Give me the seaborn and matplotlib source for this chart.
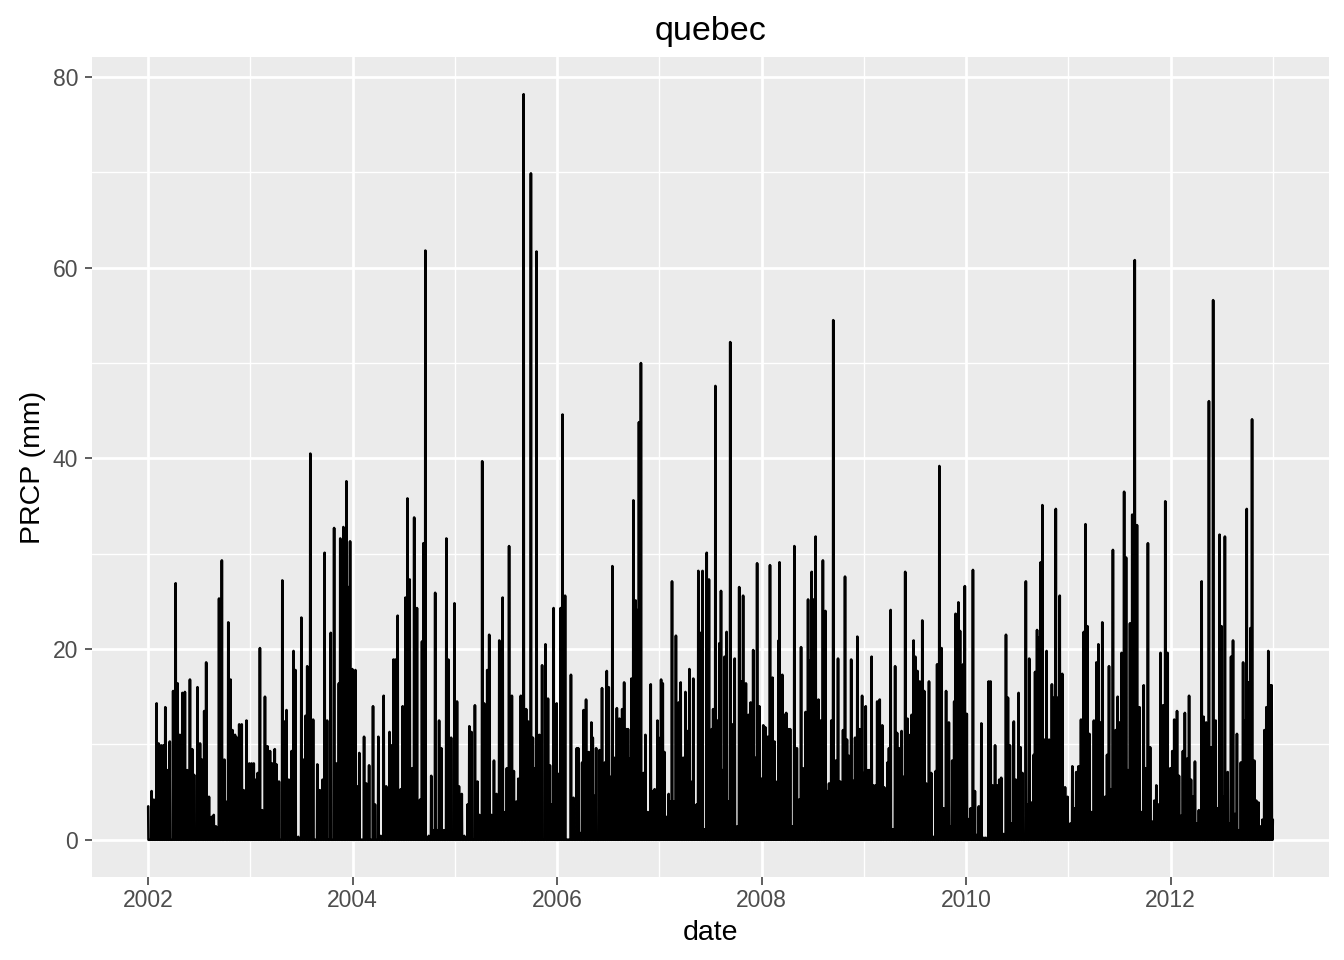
import calendar
import pandas as pd
import matplotlib
matplotlib.use('Agg')
import matplotlib.pyplot as plt
import matplotlib.dates as mdates
from matplotlib.ticker import MultipleLocator
import seaborn as sns


# rain events: decimal year of the day, precipitation in mm
# all other days in the record are dry (0 mm)
years_2002_03 = [
    2002.000, 2002.033, 2002.055, 2002.082, 2002.101, 2002.127, 2002.147, 2002.166,
    2002.186, 2002.212, 2002.245, 2002.268, 2002.287, 2002.310, 2002.333, 2002.359,
    2002.382, 2002.408, 2002.431, 2002.450, 2002.483, 2002.506, 2002.525, 2002.548,
    2002.568, 2002.594, 2002.623, 2002.640, 2002.662, 2002.692, 2002.721, 2002.744,
    2002.760, 2002.783, 2002.806, 2002.826, 2002.848, 2002.868, 2002.891, 2002.914,
    2002.933, 2002.963, 2002.989, 2003.012, 2003.034, 2003.054, 2003.070, 2003.093,
    2003.116, 2003.142, 2003.168, 2003.191, 2003.214, 2003.237, 2003.256, 2003.279,
    2003.312, 2003.331, 2003.354, 2003.374, 2003.403, 2003.423, 2003.442, 2003.468,
    2003.498, 2003.517, 2003.540, 2003.556, 2003.586, 2003.615, 2003.654, 2003.680,
    2003.707, 2003.726, 2003.752, 2003.785, 2003.818, 2003.844, 2003.866, 2003.879,
    2003.909, 2003.941, 2003.958, 2003.974, 2003.997,
]
prcp_2002_03 = [
    3.5, 5.1, 4.2, 14.3, 10.1, 9.9, 9.9, 13.9,
    7.3, 10.3, 15.6, 26.9, 16.4, 11.0, 15.4, 15.5,
    7.3, 16.8, 9.5, 6.8, 16.0, 10.1, 8.4, 13.5,
    18.6, 4.5, 2.4, 2.6, 1.4, 25.3, 29.3, 8.4,
    4.0, 22.8, 16.8, 11.5, 11.0, 10.7, 12.1, 12.1,
    5.2, 12.5, 8.0, 8.0, 8.0, 6.3, 7.0, 20.1,
    3.1, 15.0, 9.8, 9.3, 8.0, 9.5, 7.9, 6.1,
    27.2, 12.4, 13.6, 6.3, 9.3, 19.8, 17.8, 0.3,
    23.3, 8.4, 13.0, 18.2, 40.5, 12.6, 7.9, 5.2,
    6.3, 30.1, 12.5, 21.7, 32.7, 8.0, 16.4, 31.6,
    32.8, 37.6, 26.5, 31.3, 17.9,
]

years_2004_05 = [
    2004.026, 2004.045, 2004.065, 2004.113, 2004.135, 2004.161, 2004.200, 2004.219,
    2004.252, 2004.277, 2004.303, 2004.329, 2004.361, 2004.381, 2004.400, 2004.419,
    2004.439, 2004.471, 2004.490, 2004.516, 2004.535, 2004.558, 2004.581, 2004.600,
    2004.629, 2004.658, 2004.677, 2004.690, 2004.710, 2004.742, 2004.768, 2004.787,
    2004.806, 2004.826, 2004.845, 2004.865, 2004.890, 2004.916, 2004.935, 2004.961,
    2004.994, 2005.019, 2005.039, 2005.065, 2005.090, 2005.123, 2005.139, 2005.161,
    2005.194, 2005.219, 2005.239, 2005.265, 2005.284, 2005.316, 2005.335, 2005.355,
    2005.381, 2005.406, 2005.432, 2005.465, 2005.490, 2005.506, 2005.529, 2005.555,
    2005.574, 2005.600, 2005.619, 2005.645, 2005.671, 2005.697, 2005.716, 2005.742,
    2005.761, 2005.774, 2005.797, 2005.826, 2005.852, 2005.884, 2005.910, 2005.929,
    2005.948, 2005.965, 2005.994, 2006.013, 2006.032, 2006.052, 2006.077,
]
prcp_2004_05 = [
    17.8, 5.6, 9.1, 10.8, 5.9, 7.8, 14.0, 3.7,
    10.8, 0.4, 15.1, 5.6, 11.3, 9.9, 18.9, 18.9,
    23.5, 5.3, 14.0, 25.4, 35.8, 27.3, 7.5, 33.8,
    24.3, 4.2, 20.8, 31.1, 61.8, 0.4, 6.7, 1.0,
    25.9, 1.0, 12.5, 9.6, 1.0, 31.6, 18.9, 10.7,
    24.8, 14.5, 5.6, 4.8, 0.4, 3.7, 11.9, 11.3,
    14.1, 6.1, 2.6, 39.7, 14.3, 17.8, 21.5, 2.6,
    8.3, 4.8, 20.9, 25.4, 2.9, 7.5, 30.8, 15.1,
    7.2, 4.0, 6.4, 15.1, 78.2, 13.7, 12.4, 69.9,
    10.7, 7.5, 61.7, 11.0, 18.3, 20.5, 14.8, 7.8,
    3.7, 24.3, 14.3, 6.9, 24.3, 44.6, 25.6,
]

years_2006_07 = [
    2006.133, 2006.159, 2006.192, 2006.205, 2006.224, 2006.244, 2006.257, 2006.283,
    2006.309, 2006.335, 2006.348, 2006.368, 2006.381, 2006.413, 2006.439, 2006.465,
    2006.485, 2006.505, 2006.518, 2006.540, 2006.557, 2006.583, 2006.609, 2006.635,
    2006.654, 2006.674, 2006.693, 2006.713, 2006.726, 2006.746, 2006.768, 2006.781,
    2006.801, 2006.820, 2006.843, 2006.863, 2006.889, 2006.915, 2006.934, 2006.954,
    2006.980, 2006.993, 2007.016, 2007.032, 2007.048, 2007.065, 2007.091, 2007.104,
    2007.123, 2007.143, 2007.162, 2007.188, 2007.208, 2007.234, 2007.254, 2007.273,
    2007.293, 2007.306, 2007.332, 2007.351, 2007.364, 2007.381, 2007.403, 2007.423,
    2007.443, 2007.462, 2007.485, 2007.511, 2007.527, 2007.547, 2007.566, 2007.586,
    2007.602, 2007.618, 2007.638, 2007.658, 2007.677, 2007.693, 2007.716, 2007.736,
    2007.762, 2007.781, 2007.801, 2007.820, 2007.846, 2007.872, 2007.892, 2007.918,
    2007.937, 2007.957, 2007.977, 2007.996, 2008.016, 2008.035, 2008.061, 2008.081,
    2008.107, 2008.127, 2008.153, 2008.166, 2008.174,
]
prcp_2006_07 = [
    17.3, 4.4, 9.6, 9.6, 0.7, 8.1, 13.6, 14.7,
    9.2, 12.3, 10.7, 4.6, 9.6, 9.4, 15.9, 8.1,
    17.7, 16.0, 6.6, 28.7, 8.6, 13.8, 12.7, 13.7,
    16.5, 11.6, 11.6, 8.5, 16.9, 35.6, 25.1, 24.1,
    43.8, 50.0, 7.0, 11.0, 2.9, 16.3, 5.1, 5.3,
    12.5, 10.7, 16.8, 16.4, 9.2, 2.4, 4.8, 4.0,
    27.1, 4.0, 21.4, 14.4, 16.5, 8.6, 15.5, 11.4,
    17.9, 6.1, 16.9, 0.7, 3.7, 28.2, 21.7, 28.2,
    1.1, 30.1, 27.3, 11.6, 13.7, 47.6, 12.5, 20.6,
    26.1, 7.3, 19.2, 21.8, 4.0, 52.2, 12.1, 19.0,
    1.4, 26.5, 16.6, 25.6, 16.4, 13.1, 14.4, 19.9,
    8.6, 29.0, 14.0, 6.4, 12.0, 11.8, 10.8, 28.8,
    17.0, 10.3, 6.1, 20.9, 29.1,
]

years_2008_09 = [
    2008.202, 2008.221, 2008.241, 2008.260, 2008.280, 2008.299, 2008.319, 2008.345,
    2008.365, 2008.384, 2008.404, 2008.430, 2008.453, 2008.469, 2008.488, 2008.508,
    2008.527, 2008.554, 2008.576, 2008.599, 2008.622, 2008.638, 2008.658, 2008.681,
    2008.700, 2008.723, 2008.746, 2008.769, 2008.795, 2008.814, 2008.834, 2008.853,
    2008.873, 2008.892, 2008.912, 2008.935, 2008.957, 2008.980, 2008.999, 2009.016,
    2009.039, 2009.055, 2009.075, 2009.094, 2009.114, 2009.130, 2009.153, 2009.179,
    2009.198, 2009.211, 2009.231, 2009.244, 2009.260, 2009.283, 2009.303, 2009.322,
    2009.342, 2009.368, 2009.387, 2009.404, 2009.426, 2009.452, 2009.465, 2009.485,
    2009.501, 2009.524, 2009.544, 2009.570, 2009.589, 2009.609, 2009.635, 2009.658,
    2009.681, 2009.700, 2009.716, 2009.736, 2009.759, 2009.778, 2009.804, 2009.830,
    2009.850, 2009.863, 2009.883, 2009.896, 2009.922, 2009.941, 2009.961, 2009.970,
    2009.987, 2010.006, 2010.032, 2010.045, 2010.065, 2010.085, 2010.104, 2010.124,
]
prcp_2008_09 = [
    17.3, 13.1, 13.3, 11.6, 11.6, 1.4, 30.8, 9.6,
    4.2, 20.2, 7.5, 13.4, 25.2, 18.8, 28.1, 25.2,
    31.8, 14.7, 12.5, 29.3, 24.0, 5.1, 5.9, 12.5,
    54.5, 8.3, 19.0, 6.1, 11.5, 27.6, 10.5, 8.8,
    18.9, 6.2, 10.7, 21.3, 11.6, 15.1, 7.0, 14.0,
    7.3, 7.3, 19.2, 5.7, 5.7, 14.5, 14.7, 12.0,
    5.5, 1.1, 8.1, 9.6, 24.1, 1.1, 18.2, 11.2,
    9.6, 11.4, 6.6, 28.1, 12.7, 11.0, 13.1, 20.9,
    19.2, 17.7, 16.6, 23.0, 15.6, 5.9, 16.6, 7.0,
    0.3, 7.2, 18.4, 39.2, 20.1, 3.3, 15.6, 12.3,
    1.4, 8.3, 14.5, 23.7, 24.9, 21.9, 3.5, 18.4,
    26.6, 13.2, 2.2, 3.3, 28.3, 5.1, 0.5, 3.5,
]

years_2010_12 = [
    2010.147, 2010.173, 2010.192, 2010.218, 2010.238, 2010.257, 2010.283, 2010.303,
    2010.322, 2010.342, 2010.368, 2010.388, 2010.407, 2010.427, 2010.446, 2010.466,
    2010.485, 2010.511, 2010.531, 2010.550, 2010.583, 2010.603, 2010.616, 2010.642,
    2010.661, 2010.674, 2010.694, 2010.713, 2010.730, 2010.746, 2010.765, 2010.785,
    2010.811, 2010.837, 2010.857, 2010.876, 2010.896, 2010.915, 2010.941, 2010.967,
    2010.993, 2011.019, 2011.039, 2011.059, 2011.078, 2011.098, 2011.124, 2011.150,
    2011.166, 2011.186, 2011.205, 2011.225, 2011.248, 2011.274, 2011.293, 2011.313,
    2011.332, 2011.358, 2011.378, 2011.397, 2011.417, 2011.436, 2011.463, 2011.482,
    2011.502, 2011.521, 2011.544, 2011.564, 2011.583, 2011.603, 2011.625, 2011.648,
    2011.671, 2011.697, 2011.717, 2011.736, 2011.756, 2011.778, 2011.801, 2011.821,
    2011.840, 2011.860, 2011.879, 2011.902, 2011.925, 2011.948, 2011.971, 2011.997,
    2012.016, 2012.036, 2012.062, 2012.081, 2012.101, 2012.120, 2012.140, 2012.160,
    2012.179, 2012.199, 2012.218, 2012.238, 2012.257, 2012.277, 2012.303, 2012.322,
    2012.348, 2012.375, 2012.394, 2012.414, 2012.440, 2012.459, 2012.479, 2012.498,
    2012.511, 2012.531, 2012.557, 2012.576, 2012.589, 2012.609, 2012.628, 2012.648,
    2012.668, 2012.687, 2012.707, 2012.726, 2012.743, 2012.759, 2012.779, 2012.795,
    2012.818, 2012.837, 2012.857, 2012.876, 2012.896, 2012.915, 2012.935, 2012.954,
    2012.974, 2012.987, 2012.997,
]
prcp_2010_12 = [
    12.2, 0.2, 0.2, 16.6, 16.6, 5.7, 9.9, 5.7,
    6.3, 6.5, 0.6, 21.5, 14.9, 9.9, 1.7, 12.4,
    6.3, 15.4, 9.7, 7.0, 27.1, 3.7, 19.0, 3.9,
    8.9, 17.6, 22.0, 21.2, 29.1, 35.1, 10.5, 19.8,
    10.5, 16.3, 14.9, 34.7, 14.9, 25.6, 17.4, 5.5,
    4.5, 1.7, 7.7, 3.3, 7.1, 7.7, 12.6, 21.8,
    33.1, 22.4, 11.1, 2.9, 12.5, 18.6, 20.5, 12.3,
    22.8, 4.5, 8.9, 18.2, 5.3, 30.4, 11.5, 15.0,
    12.3, 19.6, 36.5, 29.6, 7.3, 22.7, 34.1, 60.8,
    33.0, 13.9, 2.9, 16.2, 7.5, 31.1, 9.7, 1.9,
    4.1, 5.7, 3.7, 19.6, 14.1, 35.5, 19.6, 7.5,
    9.3, 12.6, 13.5, 6.7, 2.5, 9.3, 13.3, 8.5,
    15.1, 6.3, 4.5, 8.2, 1.7, 3.1, 27.1, 12.9,
    12.3, 46.0, 9.7, 56.6, 12.5, 3.3, 32.0, 22.4,
    4.5, 31.8, 7.1, 1.7, 19.2, 20.9, 2.7, 11.1,
    1.0, 8.1, 18.6, 12.5, 34.7, 16.5, 22.2, 44.1,
    8.3, 4.1, 3.9, 1.4, 2.1, 11.5, 13.9, 19.8,
    16.2, 16.2, 2.1,
]

first_day = '2002-01-01'
last_day = '2012-12-31'
station = 'quebec'


def to_day(y):
    yr = int(y)
    n = 366 if calendar.isleap(yr) else 365
    return pd.Timestamp(year=yr, month=1, day=1) + pd.Timedelta(days=int(round((y - yr) * n)))


def build_series():
    days = pd.date_range(first_day, last_day, freq='D')
    df = pd.DataFrame({'date': days, 'PRCP': 0.0}).set_index('date')
    for yrs, vals in [(years_2002_03, prcp_2002_03), (years_2004_05, prcp_2004_05),
                      (years_2006_07, prcp_2006_07), (years_2008_09, prcp_2008_09),
                      (years_2010_12, prcp_2010_12)]:
        for y, v in zip(yrs, vals):
            d = min(to_day(y), pd.Timestamp(last_day))
            df.loc[d, 'PRCP'] = v
    return df.reset_index()


df = build_series()

sns.set_theme(style='darkgrid', rc={
    'axes.facecolor': '#EBEBEB',
    'figure.facecolor': 'white',
    'grid.color': 'white',
})
plt.rcParams['font.family'] = ['Liberation Sans', 'DejaVu Sans']

fig = plt.figure(figsize=(13.44, 9.6), dpi=100)
ax = fig.add_axes([0.06845, 0.08646, 0.92039, 0.85417])

sns.lineplot(data=df, x='date', y='PRCP', color='black', linewidth=1.9,
             estimator=None, ax=ax)

# ggplot-style 5% expansion
t0, t1 = df['date'].min(), df['date'].max()
pad = (t1 - t0) * 0.05
ax.set_xlim(t0 - pad, t1 + pad)
ymax = df['PRCP'].max()
ax.set_ylim(-0.05 * ymax, 1.05 * ymax)

ax.xaxis.set_major_locator(mdates.YearLocator(2))
ax.xaxis.set_minor_locator(mdates.YearLocator(1))
ax.xaxis.set_major_formatter(mdates.DateFormatter('%Y'))
ax.yaxis.set_major_locator(MultipleLocator(20))
ax.yaxis.set_minor_locator(MultipleLocator(10))

ax.set_axisbelow(True)
ax.grid(which='major', color='white', linewidth=2.0)
ax.grid(which='minor', color='white', linewidth=1.0)
for s in ax.spines.values():
    s.set_visible(False)

ax.tick_params(which='major', length=5.4, width=1.1, color='#333333',
               labelsize=16.5, labelcolor='#4D4D4D', pad=4.5)
ax.tick_params(axis='x', which='major', pad=3)
ax.tick_params(which='minor', length=0)
ax.tick_params(axis='both', which='both', bottom=True, left=True)

ax.set_xlabel('date', fontsize=20.5, color='black', labelpad=6)
ax.set_ylabel('PRCP (mm)', fontsize=20.5, color='black', labelpad=5)
ax.set_title(station, fontsize=24.5, color='black', pad=12)

fig.savefig('out.png', dpi=100)
